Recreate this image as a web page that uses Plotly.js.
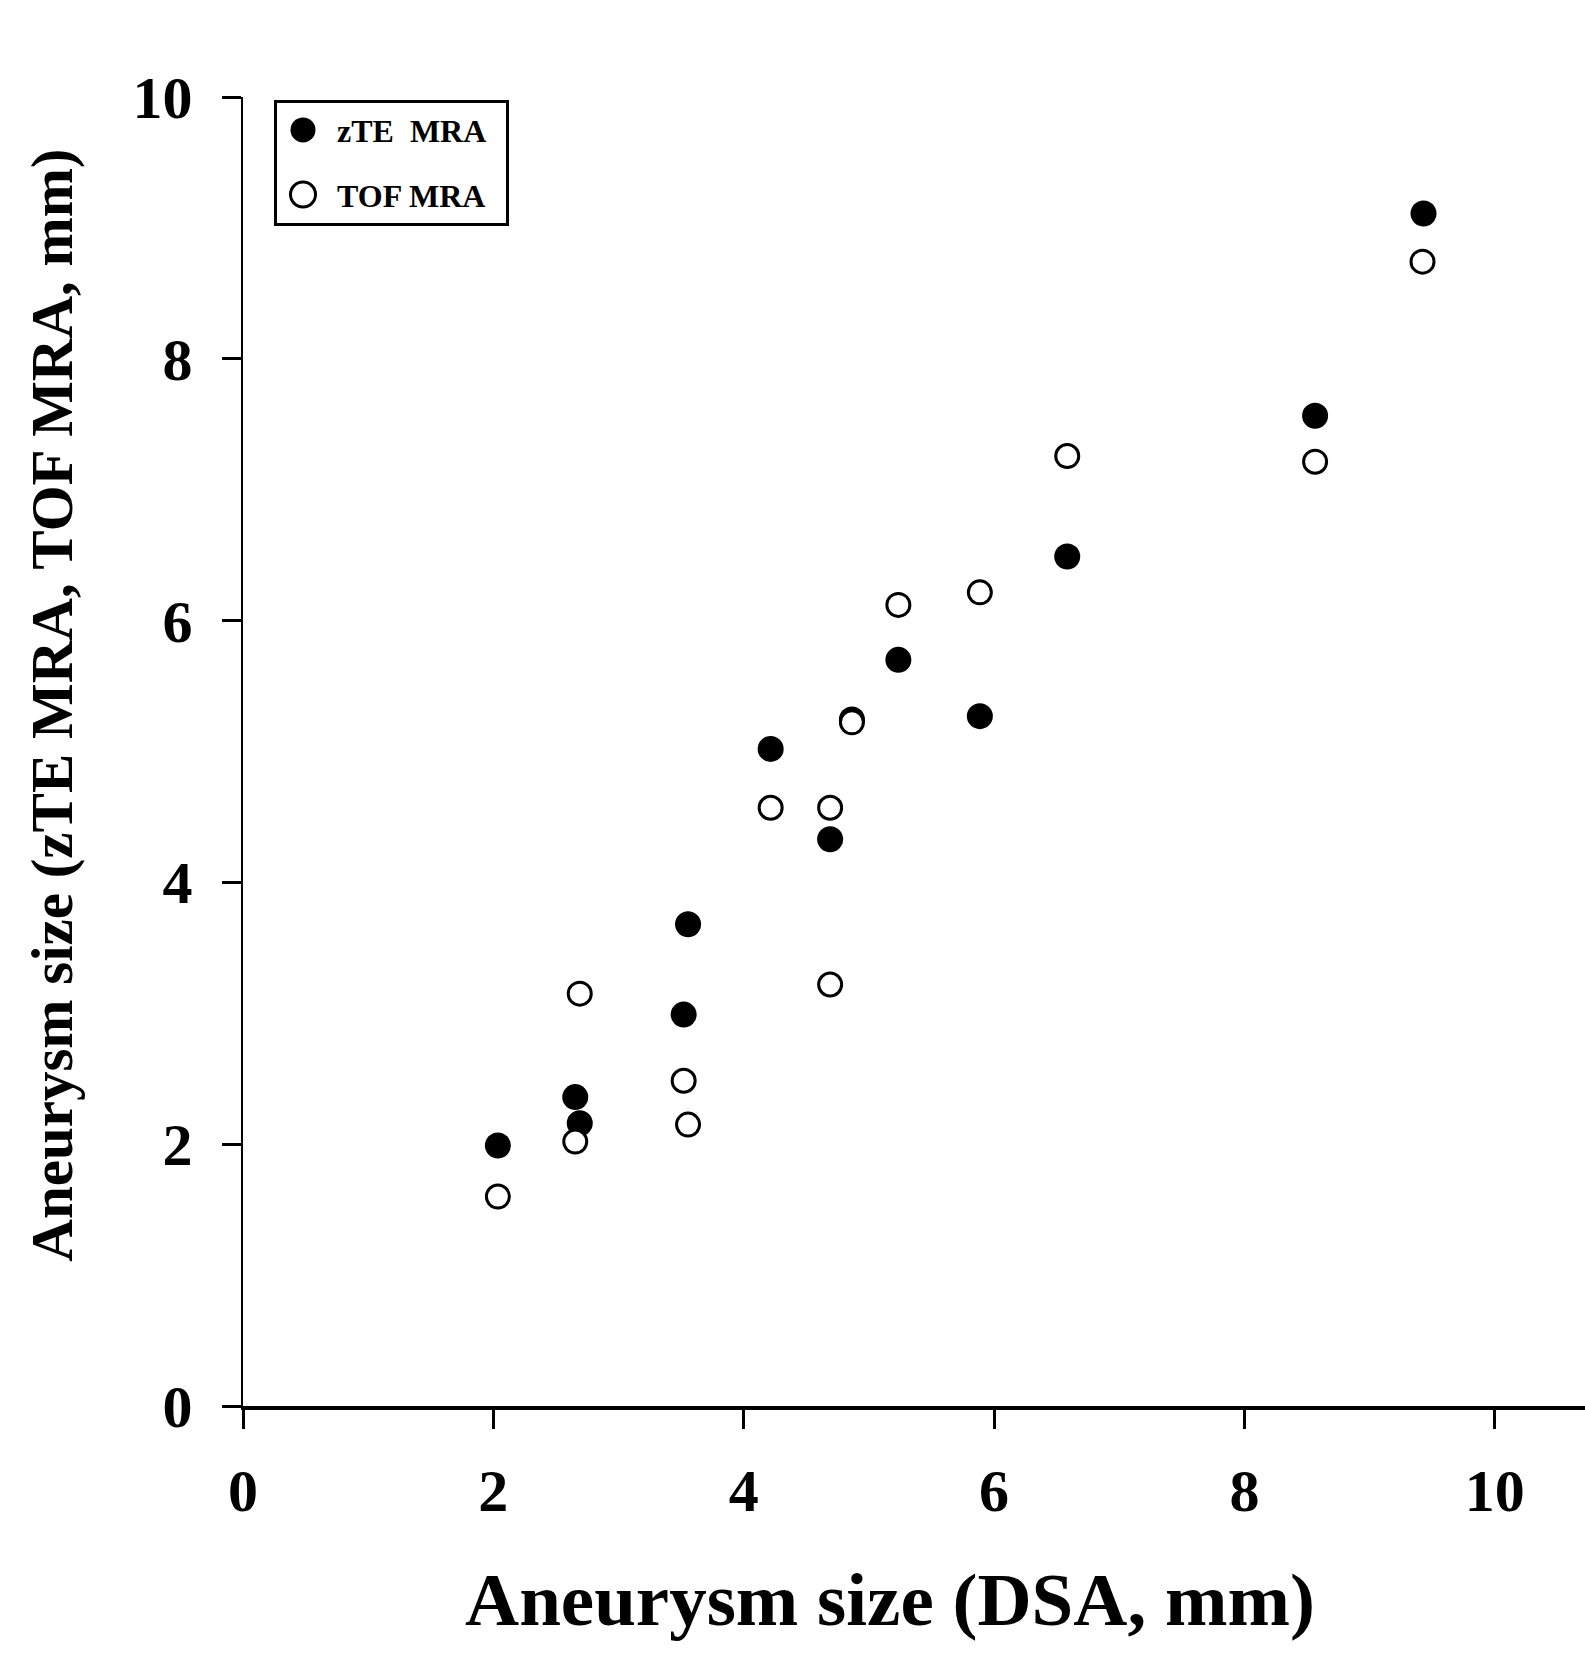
<!DOCTYPE html>
<html>
<head>
<meta charset="utf-8">
<script src="https://cdn.plot.ly/plotly-3.0.1.min.js"></script>
<style>
  html, body { margin: 0; padding: 0; background: #ffffff; }
  #chart { width: 1585px; height: 1672px; }
</style>
</head>
<body>
<div id="chart"></div>
<script>
// ---- Data ----
var zteX = [2.036, 2.654, 2.69, 3.52, 3.555, 4.215, 4.69, 4.864, 5.235, 5.886, 6.584, 8.564, 9.43];
var zteY = [1.99, 2.36, 2.16, 2.99, 3.68, 5.02, 4.33, 5.245, 5.70, 5.27, 6.49, 7.565, 9.11];
var tofX = [2.036, 2.654, 2.69, 3.52, 3.555, 4.215, 4.69, 4.69, 4.864, 5.235, 5.886, 6.584, 8.564, 9.422];
var tofY = [1.60, 2.02, 3.15, 2.485, 2.15, 4.57, 4.57, 3.22, 5.223, 6.12, 6.216, 7.257, 7.214, 8.742];
var seriesNames = ["zTE\u00a0 MRA", "TOF MRA"];
var xTicks = [0, 2, 4, 6, 8, 10];
var yTicks = [0, 2, 4, 6, 8, 10];
var xTitle = "Aneurysm size (DSA, mm)";
var yTitle = "Aneurysm size (zTE MRA, TOF MRA, mm)";

var FONT = "Liberation Serif, Times New Roman, serif";

var traces = [
  {
    x: zteX, y: zteY, name: seriesNames[0], type: "scatter", mode: "markers",
    legendgroup: "a",
    marker: { symbol: "circle", size: 26, color: "#000000", line: { width: 0 } },
    cliponaxis: false
  },
  {
    x: tofX, y: tofY, name: seriesNames[1], type: "scatter", mode: "markers",
    legendgroup: "b",
    marker: { symbol: "circle", size: 23, color: "#ffffff", line: { width: 3, color: "#000000" } },
    cliponaxis: false
  }
];

var axisCommon = {
  showgrid: false, zeroline: false, showline: true, linecolor: "#000000",
  ticks: "outside", ticklen: 19, tickwidth: 3, tickcolor: "#000000",
  tickfont: { family: FONT, size: 60, color: "#000000", weight: "bold" }
};

var layout = {
  width: 1585, height: 1672,
  paper_bgcolor: "#ffffff", plot_bgcolor: "#ffffff",
  margin: { l: 243, r: 0, t: 97, b: 266 },
  showlegend: true,
  legend: {
    x: 0.0231, y: 0.998, xanchor: "left", yanchor: "top",
    bgcolor: "#ffffff", bordercolor: "#000000", borderwidth: 3,
    font: { family: FONT, size: 32, color: "#000000", weight: "bold" },
    itemwidth: 50, tracegroupgap: 20
  },
  xaxis: Object.assign({}, axisCommon, {
    linewidth: 4,
    range: [0, 10.72], tickvals: xTicks, ticktext: xTicks.map(String),
    ticklabelstandoff: 10
  }),
  yaxis: Object.assign({}, axisCommon, {
    linewidth: 2.5,
    range: [0, 10], tickvals: yTicks, ticktext: yTicks.map(String),
    ticklabelstandoff: 17
  }),
  annotations: [
    {
      text: xTitle, xref: "paper", yref: "paper", x: 0.482, y: -0.148,
      xanchor: "center", yanchor: "middle", showarrow: false,
      font: { family: FONT, size: 75, color: "#000000", weight: "bold" }
    },
    {
      text: yTitle, xref: "paper", yref: "paper", x: -0.1423, y: 0.535,
      xanchor: "center", yanchor: "middle", showarrow: false, textangle: -90,
      font: { family: FONT, size: 59, color: "#000000", weight: "bold" }
    }
  ]
};

Plotly.newPlot("chart", traces, layout, { staticPlot: true }).then(function () {
  var pts = document.querySelectorAll(".legend .legendpoints path.scatterpts");
  var s = 25 / 16;
  pts.forEach(function (p) {
    p.setAttribute("transform", "translate(26,0) scale(" + s + ")");
    var sw = parseFloat(p.style.strokeWidth || "0");
    if (sw > 0) { p.style.strokeWidth = (3 / s) + "px"; }
  });
  var bg = document.querySelector(".legend rect.bg");
  if (bg) {
    var w = parseFloat(bg.getAttribute("width"));
    if (!isNaN(w)) { bg.setAttribute("width", w + 14); }
  }
});
</script>
</body>
</html>
